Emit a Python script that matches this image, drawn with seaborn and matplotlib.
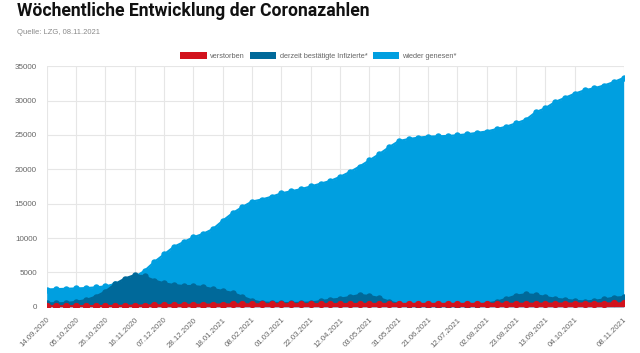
import matplotlib
matplotlib.use('Agg')
import matplotlib.pyplot as plt
import seaborn as sns
import pandas as pd
from matplotlib.patches import Patch

# ---------------- data ----------------
dates = list(pd.date_range('2020-09-14', '2021-11-08', freq='7D').strftime('%d.%m.%Y'))
dates.remove('24.05.2021')   # week missing in the source

verstorben = [60, 60, 65, 70, 75, 80, 90, 100, 120, 140,
              160, 185, 210, 230, 250, 265, 280, 295, 310, 320,
              330, 335, 340, 345, 350, 352, 355, 358, 360, 365,
              370, 375, 380, 385, 388, 390, 392, 393, 394, 395,
              396, 397, 398, 399, 400, 402, 405, 410, 415, 420,
              425, 430, 435, 440, 445, 450, 455, 460, 468, 475]

infizierte = [500, 480, 520, 700, 950, 1450, 2200, 3300, 4100, 4600,
              4400, 3800, 3400, 3150, 3000, 3000, 2850, 2550, 2300, 2000,
              1450, 900, 600, 550, 520, 520, 550, 600, 800, 1000,
              1150, 1400, 1700, 1550, 1250, 750, 400, 200, 50, 30,
              20, 30, 40, 150, 300, 450, 700, 1150, 1600, 1800,
              1700, 1400, 1150, 1000, 850, 750, 850, 1050, 1300, 1400]

genesen = [2500, 2550, 2600, 2650, 2700, 2800, 2950, 3300, 3700, 4300,
           5200, 6500, 7600, 8700, 9400, 10100, 10600, 11300, 12500, 13600,
           14500, 15300, 15600, 16000, 16500, 16800, 17100, 17500, 17900, 18300,
           18900, 19600, 20400, 21300, 22200, 23200, 24100, 24400, 24600, 24750,
           24800, 24850, 24950, 25100, 25300, 25500, 25850, 26200, 26700, 27200,
           28300, 28900, 29800, 30400, 31000, 31500, 31800, 32200, 32700, 33300]

tick_idx = list(range(0, 55, 3)) + [59]
tick_labels = [dates[i] for i in tick_idx]
y_ticks = [0, 5000, 10000, 15000, 20000, 25000, 30000, 35000]

series_names = ['verstorben', 'derzeit bestätigte Infizierte*', 'wieder genesen*']
series_values = [verstorben, infizierte, genesen]
colors = ['#d2121d', '#00699a', '#009fe0']

# ---------------- plot ----------------
sns.set_style('white')
plt.rcParams['font.family'] = ['Liberation Sans', 'DejaVu Sans']

fig = plt.figure(figsize=(6.4, 3.53), dpi=100)
ax = fig.add_axes([0.073, 0.1312, 0.9015, 0.681])

x = list(range(len(dates)))
zbase = {0: 6, 1: 4, 2: 2}
for k in [2, 1, 0]:
    vals = series_values[k]
    ax.fill_between(x, 0, vals, color=colors[k], zorder=zbase[k], linewidth=0)
    sns.lineplot(x=x, y=vals, ax=ax, color=colors[k], linewidth=1.6,
                 marker='o', markersize=4.6 if k else 5.2, markeredgewidth=0,
                 zorder=zbase[k] + 0.5)

ax.set_xlim(0, len(dates) - 1)
ax.set_ylim(0, 35000)
ax.set_xticks(tick_idx)
ax.set_xticklabels(tick_labels, rotation=45, ha='right', rotation_mode='anchor',
                   fontsize=5.6, color='#666666')
ax.set_yticks(y_ticks)
ax.set_yticklabels([str(v) for v in y_ticks], fontsize=5.8, color='#666666')
ax.tick_params(axis='both', length=5, width=0.8, color='#e6e6e6', pad=2)
ax.grid(True, color='#e6e6e6', linewidth=0.8, zorder=0)
ax.set_axisbelow(True)
for s in ax.spines.values():
    s.set_visible(False)
ax.set_xlabel('')
ax.set_ylabel('')

# title & source
fig.text(17/640, 1 - 11/353, 'Wöchentliche Entwicklung der Coronazahlen',
         fontsize=12.7, fontweight='bold', color='#111111', va='center',
         family=['Liberation Sans Narrow', 'Roboto', 'DejaVu Sans'])
fig.text(17/640, 1 - 33/353, 'Quelle: LZG, 08.11.2021', fontsize=5.5,
         color='#8a8a8a', va='center')

# legend
handles = [Patch(facecolor=c, edgecolor='none') for c in colors]
leg = fig.legend(handles, series_names, loc='center', bbox_to_anchor=(0.4977, 1 - 56/353),
                 ncol=3, frameon=False, fontsize=5.3, handlelength=3.6,
                 handleheight=1.2, handletextpad=0.45, columnspacing=0.7,
                 labelcolor='#666666')

fig.savefig('out.png', dpi=100)
